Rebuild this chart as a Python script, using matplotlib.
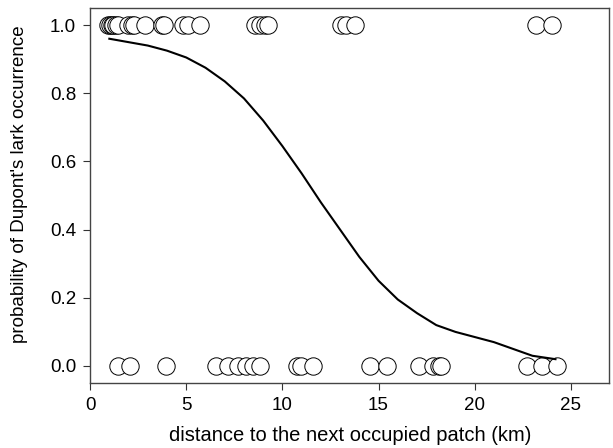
import matplotlib
matplotlib.use("Agg")
import matplotlib.pyplot as plt

# observed presences (y = 1) and absences (y = 0), distance in km
present_x = [0.92, 1.04, 1.13, 1.21, 1.33, 1.47, 1.99, 2.16, 2.3, 2.85, 3.72, 3.86,
             4.84, 5.1, 5.71, 8.56, 8.82, 9.08, 9.24, 13.06, 13.32, 13.75, 23.18, 24.04]
absent_x = [1.44, 2.08, 3.93, 6.57, 7.18, 7.7, 8.13, 8.48, 8.82, 10.78, 10.98, 11.59,
            14.53, 15.45, 17.12, 17.82, 18.15, 18.25, 22.7, 23.5, 24.3]

# fitted probability curve
curve_x = [1, 2, 3, 4, 5, 6, 7, 8, 9, 10, 11, 12, 13, 14, 15, 16, 17, 18,
           19, 20, 21, 22, 23, 24.2]
curve_y = [0.96, 0.95, 0.94, 0.925, 0.905, 0.875, 0.835, 0.785, 0.72, 0.645, 0.565,
           0.48, 0.40, 0.32, 0.25, 0.195, 0.155, 0.12, 0.10, 0.085, 0.07, 0.05, 0.03, 0.02]

plt.rcParams['font.family'] = ['Liberation Sans', 'DejaVu Sans']

fig = plt.figure(figsize=(6.13, 4.48), dpi=100)
ax = fig.add_axes([0.147, 0.145, 0.847, 0.837])

ms = 12.5
ax.plot(present_x, [1.0] * len(present_x), 'o', ms=ms, mfc='white', mec='black', mew=0.7)
ax.plot(absent_x, [0.0] * len(absent_x), 'o', ms=ms, mfc='white', mec='black', mew=0.7)
ax.plot(curve_x, curve_y, color='black', lw=1.5)

ax.set_xlim(0, 27)
ax.set_ylim(-0.05, 1.05)
ax.set_xticks([0, 5, 10, 15, 20, 25])
ax.set_yticks([0.0, 0.2, 0.4, 0.6, 0.8, 1.0])
ax.set_yticklabels(['0.0', '0.2', '0.4', '0.6', '0.8', '1.0'])
ax.tick_params(labelsize=13.5, length=5, width=0.8, color='#333333', pad=5)
for s in ax.spines.values():
    s.set_color('#444444')
    s.set_linewidth(1.0)

ax.set_xlabel('distance to the next occupied patch (km)', fontsize=14.5, labelpad=9)
ax.set_ylabel("probability of Dupont's lark occurrence", fontsize=13.5)
ax.yaxis.set_label_coords(-0.12, 0.53)

fig.savefig('out.png', dpi=100)
